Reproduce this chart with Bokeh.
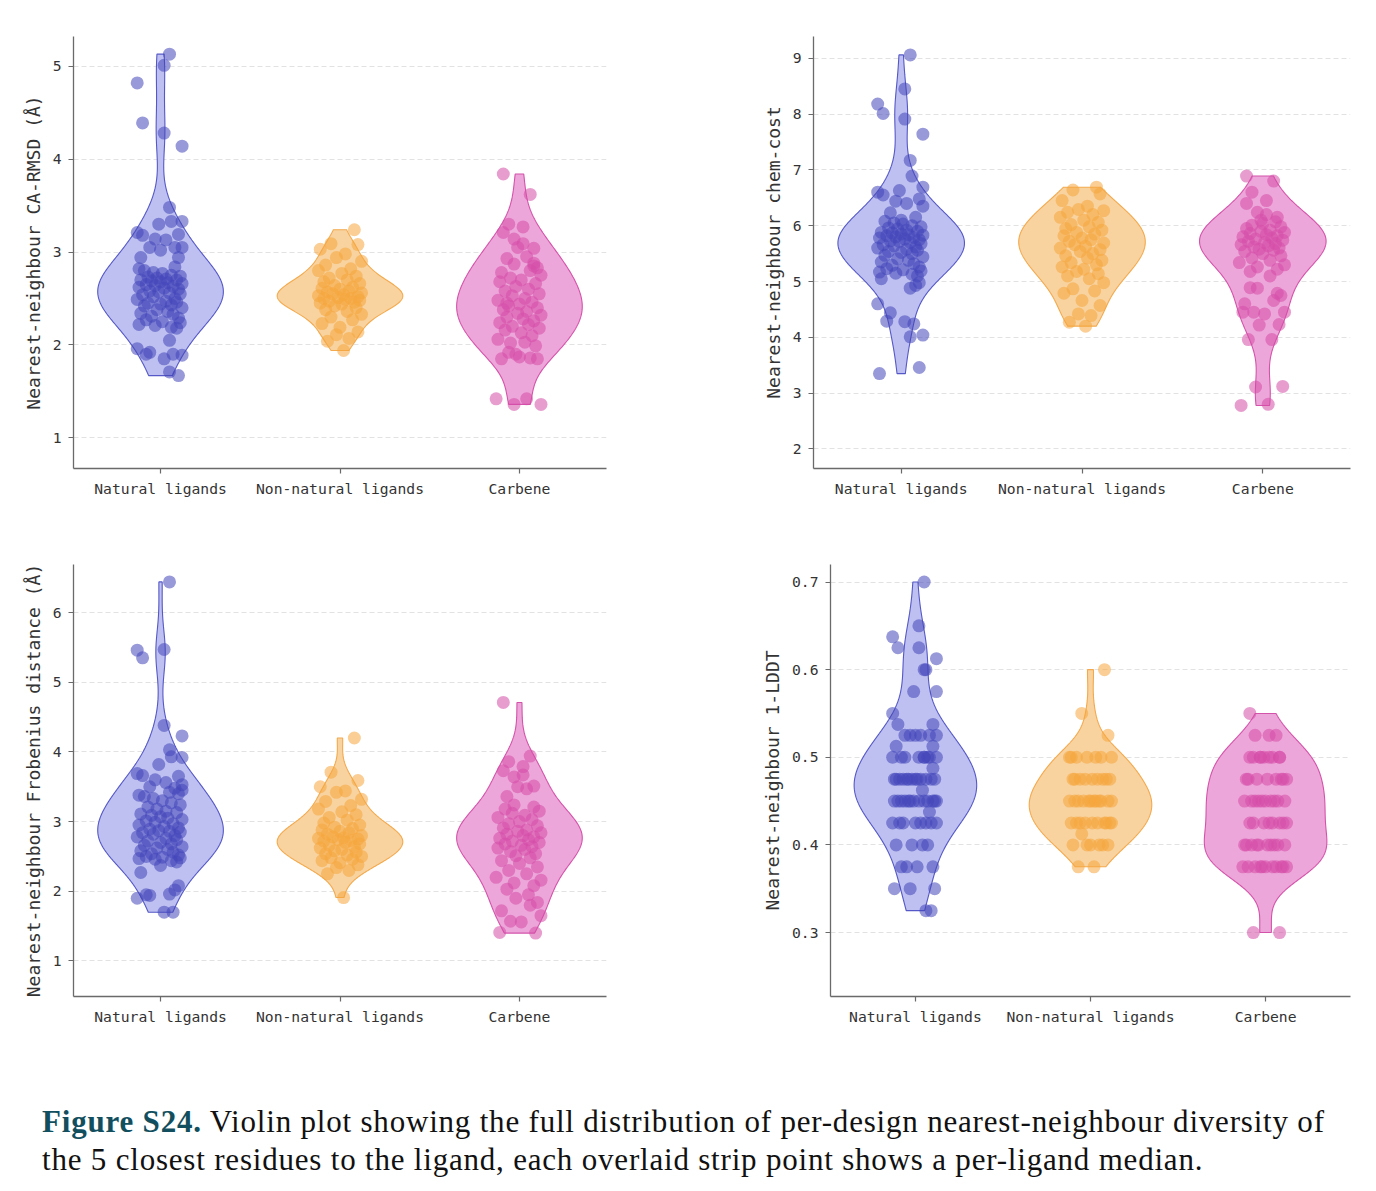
import numpy as np
from bokeh.plotting import figure
from bokeh.models import ColumnDataSource, FixedTicker, Div, Range1d
from bokeh.layouts import column, row
from bokeh.embed import file_html
from bokeh.resources import INLINE

# ---------------- data ----------------
CATEGORIES = ["Natural ligands", "Non-natural ligands", "Carbene"]

# Panel A: CA-RMSD
RMSD_NAT = [5.13, 5.01, 4.82, 4.39, 4.28, 4.14, 3.48, 3.33, 3.33, 3.30, 3.21, 3.18, 3.19, 3.14, 3.13,
            3.05, 3.05, 3.05, 3.02, 2.94, 2.94, 2.84,
            2.05, 1.96, 1.92, 1.90, 1.85, 1.90, 1.89, 1.71, 1.67,
            2.82, 2.80, 2.78, 2.77, 2.75, 2.74, 2.73, 2.72, 2.71, 2.70, 2.70, 2.69, 2.68, 2.67, 2.66,
            2.65, 2.64, 2.63, 2.62, 2.61, 2.60, 2.58, 2.57, 2.56, 2.55, 2.54, 2.52, 2.50, 2.49, 2.47,
            2.46, 2.45, 2.44, 2.43, 2.42, 2.40, 2.38, 2.36, 2.34, 2.33, 2.31, 2.29, 2.27, 2.25, 2.24,
            2.22, 2.21, 2.19, 2.18]
RMSD_NON = [3.24, 3.09, 3.08, 3.03, 2.98, 2.94, 2.90, 2.86, 2.82, 2.80, 2.77, 2.74, 2.72, 2.70, 2.68,
            2.66, 2.64, 2.62, 2.61, 2.60, 2.58, 2.57, 2.56, 2.55, 2.54, 2.53, 2.52, 2.51, 2.50, 2.50,
            2.49, 2.48, 2.47, 2.46, 2.45, 2.44, 2.42, 2.40, 2.38, 2.36, 2.33, 2.30, 2.27, 2.23, 2.19,
            2.14, 2.11, 2.07, 2.04, 1.94]
RMSD_CAR = [3.84, 3.62, 3.30, 3.27, 3.21, 3.14, 3.09, 3.04, 3.05, 2.95, 2.93, 2.87, 2.85, 2.83, 2.80,
            2.78, 2.75, 2.72, 2.70, 2.68, 2.66, 2.63, 2.60, 2.58, 2.55, 2.53, 2.50, 2.48, 2.46, 2.44,
            2.42, 2.40, 2.38, 2.36, 2.34, 2.32, 2.30, 2.28, 2.26, 2.24, 2.22, 2.20, 2.18, 2.16, 2.13,
            2.10, 2.06, 2.03, 2.02, 1.99, 1.90, 1.86, 1.85, 1.87, 1.85, 1.92, 1.42, 1.42, 1.36, 1.36,
            2.88, 2.45]

# Panel B: chem-cost
CHEM_NAT = [9.06, 8.45, 8.18, 8.01, 7.91, 7.64, 7.17, 6.89, 6.69, 6.63, 6.60, 6.55, 6.48, 6.44, 6.40,
            6.35, 6.23, 6.15, 6.10,
            5.05, 4.98, 4.93, 4.88, 4.60, 4.44, 4.29, 4.28, 4.24, 4.04, 4.01, 3.46, 3.35,
            6.08, 6.05, 6.03, 6.00, 5.98, 5.96, 5.94, 5.92, 5.90, 5.88, 5.87, 5.85, 5.84, 5.83, 5.82,
            5.80, 5.79, 5.78, 5.76, 5.75, 5.73, 5.72, 5.70, 5.68, 5.66, 5.64, 5.62, 5.60, 5.58, 5.56,
            5.54, 5.52, 5.50, 5.47, 5.44, 5.41, 5.38, 5.35, 5.32, 5.29, 5.26, 5.23, 5.21, 5.19, 5.17,
            5.15, 5.13, 5.10]
CHEM_NON = [6.69, 6.64, 6.57, 6.45, 6.35, 6.29, 6.27, 6.24, 6.20, 6.15, 6.10, 6.06, 6.02, 5.98, 5.95,
            5.92, 5.88, 5.85, 5.82, 5.78, 5.75, 5.72, 5.69, 5.66, 5.63, 5.60, 5.57, 5.54, 5.50, 5.46,
            5.42, 5.38, 5.34, 5.30, 5.26, 5.22, 5.18, 5.14, 5.10, 5.05, 4.98, 4.87, 4.83, 4.79, 4.66,
            4.57, 4.42, 4.39, 4.27, 4.20]
CHEM_CAR = [6.89, 6.80, 6.60, 6.45, 6.40, 6.24, 6.20, 6.15, 6.10,
            5.10, 4.89, 4.88, 4.79, 4.75, 4.66, 4.60, 4.45, 4.45, 4.42, 4.45, 4.23, 4.22, 3.96, 3.96,
            3.12, 3.11, 2.80, 2.78,
            6.07, 6.04, 6.01, 5.98, 5.95, 5.92, 5.90, 5.88, 5.86, 5.84, 5.82, 5.80, 5.78, 5.76, 5.74,
            5.72, 5.70, 5.68, 5.66, 5.64, 5.62, 5.60, 5.58, 5.56, 5.54, 5.50, 5.46, 5.42, 5.38, 5.34,
            5.30, 5.26, 5.22, 5.18]

# Panel C: Frobenius distance
FROB_NAT = [6.44, 5.47, 5.46, 5.35, 4.38, 4.23, 4.03, 3.93, 3.92, 3.82, 3.69, 3.66, 3.65, 3.60, 3.56,
            3.53, 3.50, 3.48,
            2.37, 2.27, 2.08, 2.02, 1.96, 1.90, 1.94, 1.95, 1.70, 1.70,
            3.45, 3.42, 3.40, 3.38, 3.36, 3.33, 3.30, 3.27, 3.24, 3.21, 3.18, 3.15, 3.13, 3.11, 3.09,
            3.07, 3.05, 3.03, 3.01, 2.99, 2.97, 2.95, 2.93, 2.91, 2.89, 2.87, 2.86, 2.85, 2.84, 2.82,
            2.80, 2.78, 2.76, 2.74, 2.72, 2.70, 2.68, 2.66, 2.64, 2.62, 2.60, 2.58, 2.56, 2.54, 2.52,
            2.50, 2.49, 2.48, 2.47, 2.46, 2.44, 2.42]
FROB_NON = [4.20, 3.71, 3.59, 3.50, 3.44, 3.42, 3.32, 3.29, 3.23, 3.18, 3.14, 3.10, 3.06, 3.02, 2.98,
            2.95, 2.92, 2.90, 2.88, 2.86, 2.84, 2.82, 2.80, 2.78, 2.77, 2.76, 2.75, 2.74, 2.73, 2.72,
            2.70, 2.68, 2.66, 2.64, 2.62, 2.60, 2.58, 2.56, 2.54, 2.52, 2.50, 2.48, 2.46, 2.44, 2.41,
            2.38, 2.34, 2.30, 2.25, 1.91]
FROB_CAR = [4.71, 3.94, 3.86, 3.79, 3.73, 3.64, 3.67, 3.51, 3.50, 3.47, 3.36, 3.24, 3.21,
            1.84, 1.80, 1.72, 1.65, 1.57, 1.56, 1.41, 1.40, 1.90, 1.95,
            3.18, 3.15, 3.12, 3.09, 3.06, 3.03, 3.00, 2.97, 2.94, 2.91, 2.88, 2.86, 2.84, 2.82, 2.80,
            2.78, 2.76, 2.74, 2.72, 2.70, 2.68, 2.66, 2.64, 2.62, 2.60, 2.57, 2.54, 2.51, 2.48, 2.44,
            2.40, 2.35, 2.30, 2.25, 2.20, 2.16, 2.12, 2.08, 2.03]

# Panel D: 1-LDDT
LDDT_NAT = [0.70, 0.65, 0.6375, 0.625, 0.625, 0.6125, 0.60, 0.60, 0.575, 0.575, 0.55, 0.5375, 0.5375,
            0.525, 0.525, 0.525, 0.525, 0.525, 0.525, 0.5125, 0.5125,
            0.50, 0.50, 0.50, 0.50, 0.50, 0.50, 0.50, 0.50, 0.50, 0.4875,
            0.475, 0.475, 0.475, 0.475, 0.475, 0.475, 0.475, 0.475, 0.475, 0.475, 0.475, 0.475, 0.475,
            0.4625,
            0.45, 0.45, 0.45, 0.45, 0.45, 0.45, 0.45, 0.45, 0.45, 0.45, 0.45, 0.45, 0.45, 0.4375,
            0.425, 0.425, 0.425, 0.425, 0.425, 0.425, 0.425, 0.425,
            0.40, 0.40, 0.40, 0.40, 0.375, 0.375, 0.375, 0.375, 0.35, 0.35, 0.35, 0.325, 0.325]
LDDT_NON = [0.60, 0.55, 0.525,
            0.50, 0.50, 0.50, 0.50, 0.50, 0.50, 0.50,
            0.475, 0.475, 0.475, 0.475, 0.475, 0.475, 0.475, 0.475, 0.475,
            0.45, 0.45, 0.45, 0.45, 0.45, 0.45, 0.45, 0.45, 0.45, 0.45, 0.45, 0.45,
            0.425, 0.425, 0.425, 0.425, 0.425, 0.425, 0.425, 0.425, 0.425, 0.425, 0.4125,
            0.40, 0.40, 0.40, 0.40, 0.40, 0.40, 0.375, 0.375]
LDDT_CAR = [0.55, 0.525, 0.525, 0.525,
            0.50, 0.50, 0.50, 0.50, 0.50, 0.50, 0.50, 0.50, 0.50,
            0.475, 0.475, 0.475, 0.475, 0.475, 0.475, 0.475, 0.475,
            0.45, 0.45, 0.45, 0.45, 0.45, 0.45, 0.45, 0.45, 0.45, 0.45,
            0.425, 0.425, 0.425, 0.425, 0.425, 0.425, 0.425, 0.425,
            0.40, 0.40, 0.40, 0.40, 0.40, 0.40, 0.40, 0.40, 0.40, 0.40,
            0.375, 0.375, 0.375, 0.375, 0.375, 0.375, 0.375, 0.375, 0.375, 0.375, 0.375,
            0.30, 0.30]

# strip jitter offsets (category units)
JIT_NAT = [0.05, 0.02, -0.13, -0.10, 0.02, 0.12, 0.05, 0.06, 0.12, -0.01, -0.13, -0.10, 0.10, -0.03,
           0.03, 0.12, -0.06, 0.08, 0.00, -0.11, 0.10, 0.08, 0.05, -0.13, -0.06, -0.08, 0.02, 0.07,
           0.12, 0.05, 0.10, -0.12, -0.09, -0.04, 0.01, 0.06, 0.11, -0.07, -0.02, 0.03, 0.09, -0.11,
           -0.05, 0.00, 0.04, 0.12, -0.08, -0.03, 0.07, -0.12, 0.02, 0.10, -0.06, -0.01, 0.05, 0.11,
           -0.10, -0.04, 0.08, -0.13, 0.03, 0.09, -0.07, 0.00, 0.06, -0.09, 0.12, -0.02, 0.04, -0.11,
           0.07, -0.05, 0.10, -0.08, 0.01, 0.11, -0.12, -0.03, 0.06, 0.09]
JIT_NON = [0.08, -0.05, 0.10, -0.11, 0.03, -0.02, 0.12, -0.08, 0.06, -0.12, 0.01, 0.09, -0.06, 0.04,
           -0.09, 0.11, -0.03, 0.07, -0.10, 0.00, 0.05, -0.07, 0.12, -0.04, 0.02, -0.12, 0.10, -0.01,
           0.06, -0.09, 0.03, 0.11, -0.06, 0.08, -0.11, 0.01, -0.03, 0.09, -0.08, 0.04, 0.12, -0.05,
           0.07, -0.10, 0.00, 0.10, -0.02, 0.05, -0.07, 0.02]
JIT_CAR = [-0.09, 0.06, -0.06, 0.02, -0.09, -0.03, 0.02, 0.08, -0.01, 0.04, -0.07, -0.03, 0.08, 0.10,
           0.06, -0.10, 0.12, -0.05, 0.01, -0.11, 0.09, -0.02, 0.05, -0.08, 0.11, -0.04, 0.03, -0.12,
           0.07, 0.00, -0.06, 0.10, -0.09, 0.04, -0.01, 0.12, -0.07, 0.02, 0.08, -0.11, 0.05, -0.04,
           0.11, -0.08, 0.01, 0.07, -0.12, 0.03, -0.05, 0.09, -0.02, 0.06, -0.10, 0.00, 0.10, -0.06,
           0.04, -0.13, 0.12, -0.03, 0.08, -0.07]

PANELS = [
    dict(label="Nearest-neighbour CA-RMSD (Å)", groups=[RMSD_NAT, RMSD_NON, RMSD_CAR],
         yrange=(0.67, 5.32), ticks=[1, 2, 3, 4, 5]),
    dict(label="Nearest-neighbour chem-cost", groups=[CHEM_NAT, CHEM_NON, CHEM_CAR],
         yrange=(1.65, 9.39), ticks=[2, 3, 4, 5, 6, 7, 8, 9]),
    dict(label="Nearest-neighbour Frobenius distance (Å)", groups=[FROB_NAT, FROB_NON, FROB_CAR],
         yrange=(0.49, 6.69), ticks=[1, 2, 3, 4, 5, 6]),
    dict(label="Nearest-neighbour 1-LDDT", groups=[LDDT_NAT, LDDT_NON, LDDT_CAR],
         yrange=(0.227, 0.720), ticks=[0.3, 0.4, 0.5, 0.6, 0.7]),
]
JITTERS = [JIT_NAT, JIT_NON, JIT_CAR]

FILL = ["#bdc0f0", "#f8d3a0", "#eda6da"]
EDGE = ["#5558c6", "#f3a94c", "#d453aa"]
POINT = ["#4446b9", "#f5a53c", "#d64ca7"]

CAPTION_LABEL = "Figure S24."
CAPTION_TEXT = ("Violin plot showing the full distribution of per-design nearest-neighbour diversity of",
                "the 5 closest residues to the ligand, each overlaid strip point shows a per-ligand median.")

MONO = "DejaVu Sans Mono"
HALF_WIDTH = 0.35


def kde_profile(vals, n=240):
    v = np.asarray(vals, dtype=float)
    bw = v.std(ddof=1) * len(v) ** (-0.2)
    grid = np.linspace(v.min(), v.max(), n)
    d = np.exp(-0.5 * ((grid[:, None] - v[None, :]) / bw) ** 2).sum(axis=1)
    return grid, d / d.max()


def make_panel(spec, borders, width, height):
    bl, br, bt, bb = borders
    p = figure(width=width, height=height, output_backend="svg", toolbar_location=None,
               x_range=Range1d(-0.485, 2.485), y_range=Range1d(*spec["yrange"]),
               min_border_left=bl, min_border_right=br, min_border_top=bt, min_border_bottom=bb)
    p.outline_line_color = None
    p.background_fill_color = "white"
    p.border_fill_color = "white"
    p.xgrid.visible = False
    p.ygrid.grid_line_color = "#e2e2e2"
    p.ygrid.grid_line_dash = "5 3"
    p.ygrid.grid_line_width = 1
    p.ygrid.ticker = FixedTicker(ticks=spec["ticks"])

    for i, vals in enumerate(spec["groups"]):
        grid, dens = kde_profile(vals)
        xs = np.concatenate([i - HALF_WIDTH * dens, (i + HALF_WIDTH * dens)[::-1]])
        ys = np.concatenate([grid, grid[::-1]])
        p.patch(x=xs, y=ys, fill_color=FILL[i], fill_alpha=1.0, line_color=EDGE[i], line_width=1.1)

    for i, vals in enumerate(spec["groups"]):
        jit = JITTERS[i]
        xs = [i + jit[k % len(jit)] for k in range(len(vals))]
        src = ColumnDataSource(dict(x=xs, y=list(vals)))
        p.scatter("x", "y", source=src, size=13, fill_color=POINT[i], fill_alpha=0.55,
                  line_color=None)

    p.xaxis.ticker = FixedTicker(ticks=[0, 1, 2])
    p.xaxis.major_label_overrides = {0: CATEGORIES[0], 1: CATEGORIES[1], 2: CATEGORIES[2]}
    p.yaxis.ticker = FixedTicker(ticks=spec["ticks"])
    p.yaxis.axis_label = spec["label"]
    for ax in (p.xaxis[0], p.yaxis[0]):
        ax.axis_line_color = "#6a6a6a"
        ax.axis_line_width = 1.3
        ax.major_tick_line_color = "#6a6a6a"
        ax.major_tick_line_width = 1.2
        ax.major_tick_out = 5
        ax.major_tick_in = 0
        ax.minor_tick_line_color = None
        ax.major_label_text_font = MONO
        ax.major_label_text_font_size = "14.7px"
        ax.major_label_text_color = "#333333"
        ax.axis_label_text_font = MONO
        ax.axis_label_text_font_size = "18px"
        ax.axis_label_text_font_style = "normal"
        ax.axis_label_text_color = "#333333"
    p.xaxis.major_label_standoff = 6
    p.yaxis.major_label_standoff = 7
    p.yaxis.axis_label_standoff = 6
    return p


p1 = make_panel(PANELS[0], (73, 82, 36, 48), 688, 516)
p2 = make_panel(PANELS[1], (125, 26, 36, 48), 688, 516)
p3 = make_panel(PANELS[2], (73, 82, 48, 54), 688, 534)
p4 = make_panel(PANELS[3], (142, 26, 48, 54), 688, 534)

caption = Div(
    text=('<div style="padding:48px 0 0 37px; font-family:\'Liberation Serif\', serif; font-size:31px; '
          'letter-spacing:0.8px; line-height:38px; color:#111; white-space:nowrap;">'
          '<span style="color:#124f5e; font-weight:bold;">' + CAPTION_LABEL + '</span> '
          + CAPTION_TEXT[0] + '<br>' + CAPTION_TEXT[1] + '</div>'),
    width=1376, height=141)

layout = column(row(p1, p2), row(p3, p4), caption)
open("out.html", "w").write(file_html(layout, INLINE))
